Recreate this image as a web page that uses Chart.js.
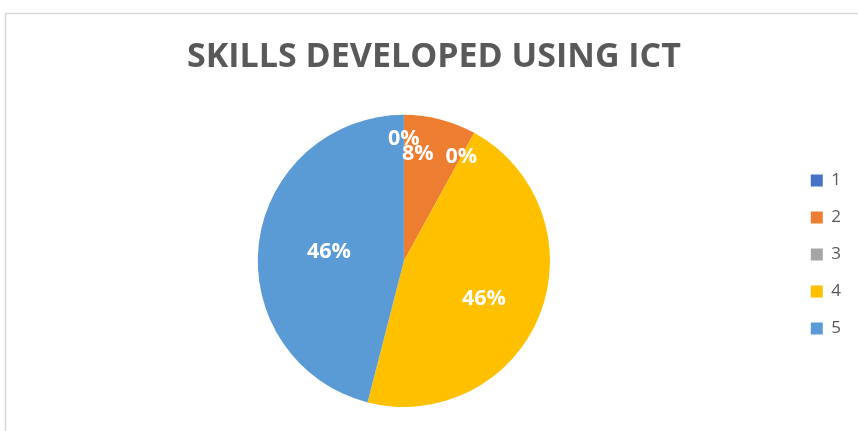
<!DOCTYPE html>
<html>
<head>
<meta charset="utf-8">
<title>Skills developed using ICT</title>
<script src="https://cdn.jsdelivr.net/npm/chart.js@4/dist/chart.umd.min.js"></script>
<style>
  html, body { margin: 0; padding: 0; background: #fff; }
  #wrap { width: 858px; height: 431px; position: relative; }
</style>
</head>
<body>
<div id="wrap"><canvas id="mycanvas"></canvas></div>
<script>
// survey answers (rating 1..5) and their share in percent
const ratings = ["1", "2", "3", "4", "5"];
const shares = [0, 8, 0, 46, 46];
const sliceColors = ["#4472C4", "#ED7D31", "#A5A5A5", "#FFC000", "#5B9BD5"];
const chartTitle = "SKILLS DEVELOPED USING ICT";

// frame line of the chart box (top and left edge)
const frame = {
  id: 'frame',
  beforeDraw(chart) {
    const c = chart.ctx;
    c.save();
    c.strokeStyle = '#d9d9d9';
    c.lineWidth = 1.5;
    c.beginPath();
    c.moveTo(5.5, chart.height);
    c.lineTo(5.5, 13.5);
    c.lineTo(chart.width, 13.5);
    c.stroke();
    c.restore();
  }
};

// move the legend column vertically
const legendNudge = {
  id: 'legendNudge',
  afterLayout(chart, args, opts) {
    const lg = chart.legend;
    if (!lg) return;
    lg.top -= opts.dy;
    lg.bottom -= opts.dy;
  }
};

// percent labels inside the slices
const sliceLabels = {
  id: 'sliceLabels',
  afterDatasetsDraw(chart, args, opts) {
    const c = chart.ctx;
    const meta = chart.getDatasetMeta(0);
    const data = chart.data.datasets[0].data;
    c.save();
    c.fillStyle = '#ffffff';
    c.font = opts.font;
    c.textAlign = 'center';
    c.textBaseline = 'middle';
    meta.data.forEach((arc, i) => {
      const p = arc.getProps(['x', 'y', 'startAngle', 'endAngle', 'outerRadius'], true);
      const ang = (p.startAngle + p.endAngle) / 2 + (opts.turn[i] || 0) * Math.PI / 180;
      const r = p.outerRadius * opts.radius[i];
      c.fillText(data[i] + '%', p.x + Math.cos(ang) * r, p.y + Math.sin(ang) * r);
    });
    c.restore();
  }
};

const ctx = document.getElementById('mycanvas').getContext('2d');

new Chart(ctx, {
  type: 'pie',
  data: {
    labels: ratings,
    datasets: [{
      data: shares,
      backgroundColor: sliceColors,
      borderWidth: 0
    }]
  },
  options: {
    responsive: true,
    maintainAspectRatio: false,
    animation: false,
    events: [],
    layout: {
      padding: { top: 20, left: 17, right: 7, bottom: 24 }
    },
    plugins: {
      title: {
        display: true,
        text: chartTitle,
        color: '#595959',
        font: { family: 'Open Sans', size: 34, weight: 'bold' },
        padding: { top: 17, bottom: 37 }
      },
      legend: {
        position: 'right',
        labels: {
          color: '#595959',
          font: { family: 'Open Sans', size: 17 },
          boxWidth: 12,
          boxHeight: 12,
          padding: 20
        }
      },
      tooltip: { enabled: false },
      legendNudge: { dy: -41 },
      sliceLabels: {
        font: 'bold 21.5px "Open Sans"',
        radius: [0.836, 0.74, 0.815, 0.607, 0.517],
        turn: [0, -7, 0, 3.8, -0.4]
      }
    }
  },
  plugins: [frame, legendNudge, sliceLabels]
});
</script>
</body>
</html>
